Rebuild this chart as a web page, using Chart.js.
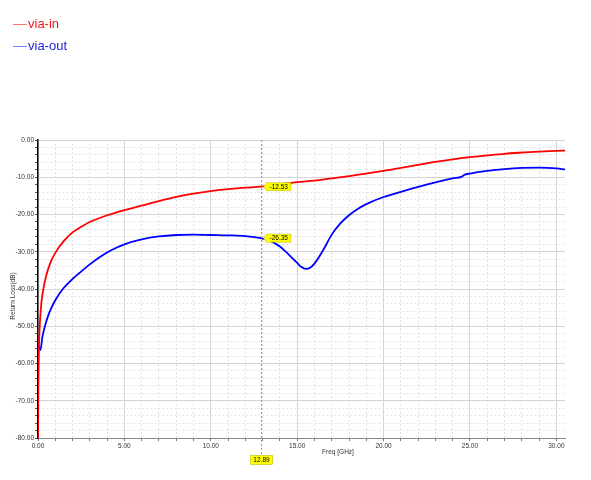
<!DOCTYPE html>
<html>
<head>
<meta charset="utf-8">
<script src="https://cdn.jsdelivr.net/npm/chart.js@4"></script>
<style>
  html, body { margin: 0; padding: 0; background: #fff; }
  #wrap { position: relative; width: 591px; height: 480px; }
  #legend { position: absolute; left: 13px; top: 15px; font-family: "Liberation Sans", Arial, sans-serif; font-size: 13px; }
  .item { height: 21.5px; line-height: 18px; white-space: nowrap; }
  .item span.ln { display: inline-block; width: 14px; height: 0; vertical-align: middle; margin-right: 1px; }
</style>
</head>
<body>
<div id="wrap">
  <canvas id="chart" width="591" height="480"></canvas>
  <div id="legend"></div>
</div>
<script>
// frequency (GHz) / return loss (dB)
const inFreq = [0, 0.02, 0.05, 0.1, 0.2, 0.3, 0.5, 0.75, 1.0, 1.5, 2, 2.5, 3, 4, 5, 6, 7, 8, 9, 10, 11, 12, 12.89, 14, 15, 16, 17, 18, 19, 20, 21, 22, 23, 24, 25, 26, 27, 28, 29, 30, 30.5];
const inLoss = [-80, -66, -56.5, -50, -43.5, -40.3, -36, -32.6, -30.3, -27.1, -24.8, -23.3, -22.0, -20.2, -18.8, -17.6, -16.4, -15.3, -14.4, -13.7, -13.2, -12.8, -12.53, -11.9, -11.3, -10.9, -10.3, -9.7, -9.0, -8.3, -7.5, -6.7, -5.9, -5.2, -4.6, -4.1, -3.7, -3.35, -3.1, -2.9, -2.85];

const outFreq = [0, 0.05, 0.14, 0.25, 0.4, 0.6, 0.8, 1.0, 1.44, 2.0, 2.4, 3, 3.5, 4, 4.5, 5, 6, 7, 8, 9, 10, 11, 12, 12.89, 13.5, 14, 14.5, 15, 15.25, 15.5, 15.75, 16, 16.5, 17, 17.5, 18, 18.5, 19, 20, 21, 22, 23, 24, 24.5, 24.7, 25, 26, 27, 28, 29, 30, 30.5];
const outLoss = [-55, -55.5, -56.4, -53.0, -50.0, -47.0, -44.8, -43.0, -40.0, -37.3, -35.7, -33.4, -31.7, -30.2, -29.0, -28.0, -26.7, -25.9, -25.5, -25.4, -25.5, -25.6, -25.8, -26.35, -27.2, -28.6, -30.7, -33.0, -34.1, -34.6, -34.3, -33.2, -29.6, -25.4, -22.4, -20.2, -18.5, -17.2, -15.3, -13.9, -12.6, -11.4, -10.3, -9.9, -9.3, -9.0, -8.3, -7.8, -7.5, -7.4, -7.6, -7.9];

const seriesNames = ['via-in', 'via-out'];
const seriesColors = ['#ff0000', '#0000ff'];
const legendText = ['#f01818', '#2323d8'];
const legendLine = ['#ff7070', '#8080ff'];

const markerFreq = 12.89;
const markerValues = ['-12.53', '-26.35'];
const markerLabel = '12.89';

const xTitle = 'Freq [GHz]';
const yTitle = 'Return Loss(dB)';

const toPoints = (xs, ys) => xs.map((x, i) => ({ x: x, y: ys[i] }));

// legend as html text
const legendEl = document.getElementById('legend');
seriesNames.forEach((n, i) => {
  const d = document.createElement('div');
  d.className = 'item';
  d.style.color = legendText[i];
  d.innerHTML = '<span class="ln" style="border-top:1px solid ' + legendLine[i] + '"></span>' + n;
  legendEl.appendChild(d);
});

const tickFont = { family: 'Liberation Sans, Arial, sans-serif', size: 6.5 };

const markerPlugin = {
  id: 'marker',
  afterDatasetsDraw(chart) {
    const { ctx, scales: { x, y }, chartArea } = chart;
    const px = Math.round(x.getPixelForValue(markerFreq)) + 0.5;
    ctx.save();
    ctx.strokeStyle = '#a0a0a0';
    ctx.lineWidth = 1;
    ctx.setLineDash([2, 2]);
    ctx.beginPath();
    ctx.moveTo(px, chartArea.top);
    ctx.lineTo(px, chartArea.bottom + 17);
    ctx.stroke();
    ctx.setLineDash([]);

    ctx.font = '6.5px Liberation Sans, Arial, sans-serif';
    ctx.textBaseline = 'middle';
    markerValues.forEach((v) => {
      const py = y.getPixelForValue(parseFloat(v));
      const w = ctx.measureText(v).width + 6;
      ctx.fillStyle = '#ffff00';
      ctx.beginPath();
      ctx.moveTo(px + 2, py);
      ctx.lineTo(px + 5, py - 4);
      ctx.lineTo(px + 5 + w, py - 4);
      ctx.lineTo(px + 5 + w, py + 4);
      ctx.lineTo(px + 5, py + 4);
      ctx.closePath();
      ctx.fill();
      ctx.strokeStyle = '#b0b000';
      ctx.lineWidth = 0.5;
      ctx.stroke();
      ctx.fillStyle = '#000';
      ctx.textAlign = 'left';
      ctx.fillText(v, px + 8, py + 0.5);
    });

    // frequency box under axis
    const bw = ctx.measureText(markerLabel).width + 6;
    const by = chartArea.bottom + 22;
    ctx.fillStyle = '#ffff00';
    ctx.fillRect(px - bw / 2, by - 4.5, bw, 9);
    ctx.strokeStyle = '#b0b000';
    ctx.lineWidth = 0.5;
    ctx.strokeRect(px - bw / 2, by - 4.5, bw, 9);
    ctx.fillStyle = '#000';
    ctx.textAlign = 'center';
    ctx.fillText(markerLabel, px, by + 0.5);

    // axis titles
    ctx.fillStyle = '#333';
    ctx.font = '6.5px Liberation Sans, Arial, sans-serif';
    ctx.textAlign = 'center';
    ctx.fillText(xTitle, 338, chartArea.bottom + 14);
    ctx.translate(13, 296);
    ctx.rotate(-Math.PI / 2);
    ctx.fillText(yTitle, 0, 0);
    ctx.restore();
  }
};

new Chart(document.getElementById('chart'), {
  type: 'line',
  data: {
    datasets: [
      { label: seriesNames[0], data: toPoints(inFreq, inLoss), borderColor: seriesColors[0], borderWidth: 1.8, pointRadius: 0, cubicInterpolationMode: 'monotone', fill: false },
      { label: seriesNames[1], data: toPoints(outFreq, outLoss), borderColor: seriesColors[1], borderWidth: 1.8, pointRadius: 0, cubicInterpolationMode: 'monotone', fill: false }
    ]
  },
  options: {
    responsive: false,
    animation: false,
    layout: { padding: { top: 140, left: 0, right: 26, bottom: 0 } },
    plugins: { legend: { display: false }, tooltip: { enabled: false } },
    scales: {
      x: {
        type: 'linear',
        min: 0,
        max: 30.5,
        afterFit: (s) => { s.height = 42; },
        ticks: {
          stepSize: 1,
          includeBounds: false,
          autoSkip: false,
          maxRotation: 0,
          padding: 1,
          color: '#333',
          font: tickFont,
          callback: (v) => (v % 5 === 0 ? v.toFixed(2) : '')
        },
        grid: {
          color: (c) => (c.tick && c.tick.value % 5 === 0 ? '#d4d4d4' : '#e2e2e2'),
          lineWidth: 1,
          tickLength: 3,
          tickColor: '#777'
        },
        border: {
          color: '#888',
          width: 1,
          dash: (c) => (c.tick && c.tick.value % 5 === 0 ? [] : [2, 2])
        }
      },
      y: {
        min: -80,
        max: 0,
        afterFit: (s) => { s.width = 38; },
        ticks: {
          stepSize: 2,
          autoSkip: false,
          padding: 1,
          color: '#333',
          font: tickFont,
          callback: (v) => (v % 10 === 0 ? v.toFixed(2) : '')
        },
        grid: {
          color: (c) => (c.tick && c.tick.value % 10 === 0 ? '#d4d4d4' : '#e2e2e2'),
          lineWidth: 1,
          tickLength: 3,
          tickColor: '#555'
        },
        border: {
          color: '#000',
          width: 1.5,
          dash: (c) => (c.tick && c.tick.value % 10 === 0 ? [] : [2, 2])
        }
      }
    }
  },
  plugins: [markerPlugin]
});
</script>
</body>
</html>
